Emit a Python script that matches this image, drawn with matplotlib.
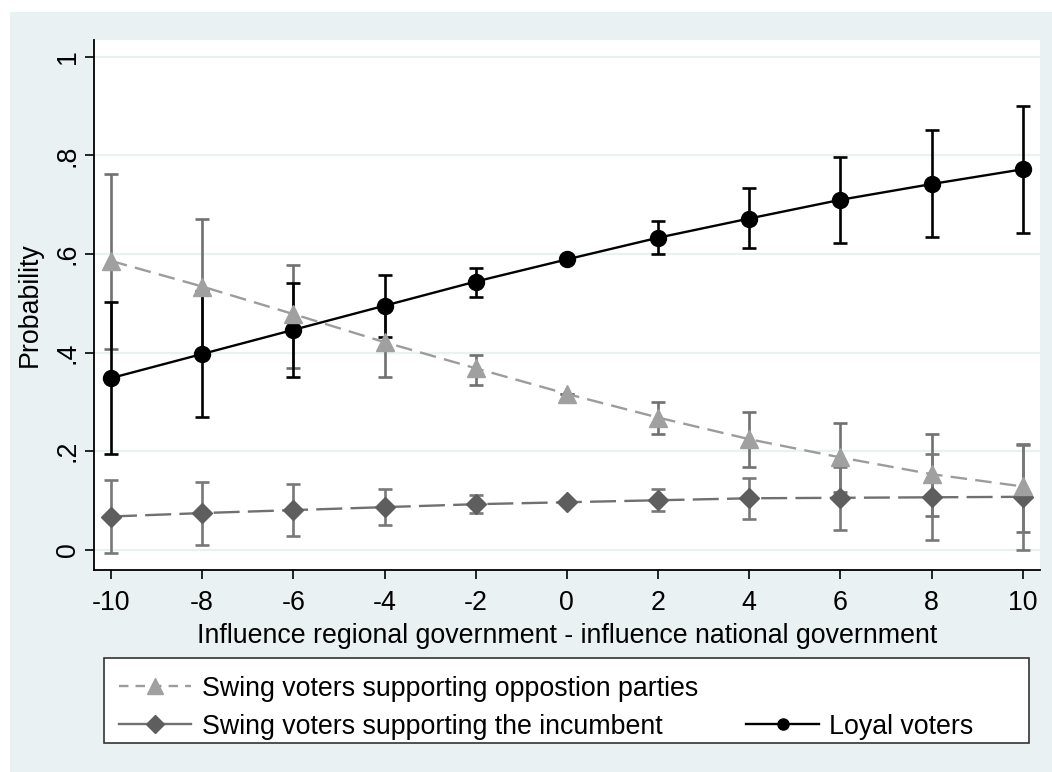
import numpy as np
import matplotlib
matplotlib.use("Agg")
import matplotlib.pyplot as plt
from matplotlib.lines import Line2D
from matplotlib.patches import Rectangle

plt.rcParams['font.family'] = ['Liberation Sans', 'DejaVu Sans']

# predicted probabilities with 95% confidence bounds
x = [-10, -8, -6, -4, -2, 0, 2, 4, 6, 8, 10]

opp_p  = [0.586, 0.534, 0.478, 0.421, 0.368, 0.316, 0.268, 0.224, 0.187, 0.153, 0.128]
opp_lo = [0.408, 0.397, 0.368, 0.351, 0.334, 0.316, 0.234, 0.167, 0.117, 0.068, 0.036]
opp_hi = [0.762, 0.671, 0.578, 0.491, 0.394, 0.316, 0.299, 0.279, 0.257, 0.235, 0.214]

inc_p  = [0.067, 0.074, 0.080, 0.086, 0.092, 0.096, 0.100, 0.104, 0.105, 0.106, 0.107]
inc_lo = [-0.008, 0.009, 0.028, 0.050, 0.074, 0.096, 0.078, 0.061, 0.040, 0.019, -0.002]
inc_hi = [0.141, 0.138, 0.132, 0.122, 0.111, 0.096, 0.122, 0.146, 0.168, 0.193, 0.212]

loyal_p  = [0.348, 0.397, 0.446, 0.495, 0.544, 0.589, 0.633, 0.672, 0.710, 0.742, 0.772]
loyal_lo = [0.193, 0.270, 0.350, 0.432, 0.513, 0.589, 0.600, 0.612, 0.623, 0.634, 0.643]
loyal_hi = [0.503, 0.524, 0.542, 0.558, 0.572, 0.589, 0.666, 0.733, 0.796, 0.852, 0.900]

labels = ["Swing voters supporting oppostion parties",
          "Swing voters supporting the incumbent",
          "Loyal voters"]

bg = "#E9F1F3"
fs = 19.3

fig = plt.figure(figsize=(10.52, 7.72), dpi=100, facecolor="white")
fig.patches.append(Rectangle((10 / 1052, 0), 1, 1 - 12 / 772,
                             transform=fig.transFigure, facecolor=bg,
                             edgecolor="none", zorder=-10))
ax = fig.add_axes([94 / 1052, 202 / 772, 946 / 1052, 530 / 772])
ax.set_facecolor("white")


def yerr(p, lo, hi):
    p = np.array(p)
    return [p - np.array(lo), np.array(hi) - p]


# confidence intervals
ax.errorbar(x, opp_p, yerr=yerr(opp_p, opp_lo, opp_hi), fmt="none",
            ecolor="#707070", elinewidth=1.9, capsize=5, capthick=1.9, zorder=3)
ax.errorbar(x, inc_p, yerr=yerr(inc_p, inc_lo, inc_hi), fmt="none",
            ecolor="#787878", elinewidth=1.9, capsize=5, capthick=1.9, zorder=3)
ax.errorbar(x, loyal_p, yerr=yerr(loyal_p, loyal_lo, loyal_hi), fmt="none",
            ecolor="black", elinewidth=1.9, capsize=5, capthick=1.9, zorder=3)

# point estimates
ax.plot(x, inc_p, color="#707070", lw=1.7, dashes=(11, 3.5),
        marker="D", ms=10, mfc="#5E5E5E", mec="#5E5E5E", zorder=4)
ax.plot(x, loyal_p, color="black", lw=1.7,
        marker="o", ms=11.5, mfc="black", mec="black", zorder=4)
ax.plot(x, opp_p, color="#9C9C9C", lw=1.7, dashes=(7, 3.5),
        marker="^", ms=13, mfc="#A0A0A0", mec="#A0A0A0", zorder=5)

ax.set_xlim(-10.373, 10.38)
ax.set_ylim(-0.0416, 1.0345)
ax.set_xticks(x)
ax.set_xticklabels([str(v) for v in x])
ax.set_yticks([0, 0.2, 0.4, 0.6, 0.8, 1.0])
ax.set_yticklabels(["0", ".2", ".4", ".6", ".8", "1"], rotation=90, va="center")
ax.tick_params(axis="both", labelsize=fs, length=6.5, width=1.2, color="black")
ax.tick_params(axis="x", pad=8)
ax.tick_params(axis="y", pad=3)
ax.grid(axis="y", color=bg, lw=1.6)
ax.set_axisbelow(True)
for s in ["top", "right"]:
    ax.spines[s].set_visible(False)
for s in ["left", "bottom"]:
    ax.spines[s].set_linewidth(1.3)

ax.set_xlabel("Influence regional government - influence national government",
              fontsize=fs, labelpad=5)
ax.set_ylabel("Probability", fontsize=fs, labelpad=9)

# legend: box drawn separately, entries without frame
fig.patches.append(Rectangle((104 / 1052, 29 / 772), 925 / 1052, 85 / 772,
                             transform=fig.transFigure, facecolor="white",
                             edgecolor="#333333", lw=1.2, zorder=1))
handles = [
    Line2D([], [], color="#9C9C9C", lw=1.7, dashes=(4, 3), marker="^", ms=11,
           mfc="#A0A0A0", mec="#A0A0A0"),
    Line2D([], [], color="#707070", lw=1.7, marker="D", ms=9,
           mfc="#5E5E5E", mec="#5E5E5E"),
    Line2D([], [], color="none"),
    Line2D([], [], color="black", lw=1.7, marker="o", ms=8, mfc="black", mec="black"),
]
leg = fig.legend(handles, [labels[0], labels[1], "", labels[2]], ncol=2,
                 loc="upper left", bbox_to_anchor=(100 / 1052, 1 - 657 / 772),
                 frameon=False, fontsize=fs, handlelength=2.7, handletextpad=0.4,
                 labelspacing=0.45, columnspacing=1.8, borderpad=0.2)
leg.set_zorder(2)

fig.savefig("out.png", dpi=100, facecolor=fig.get_facecolor())
